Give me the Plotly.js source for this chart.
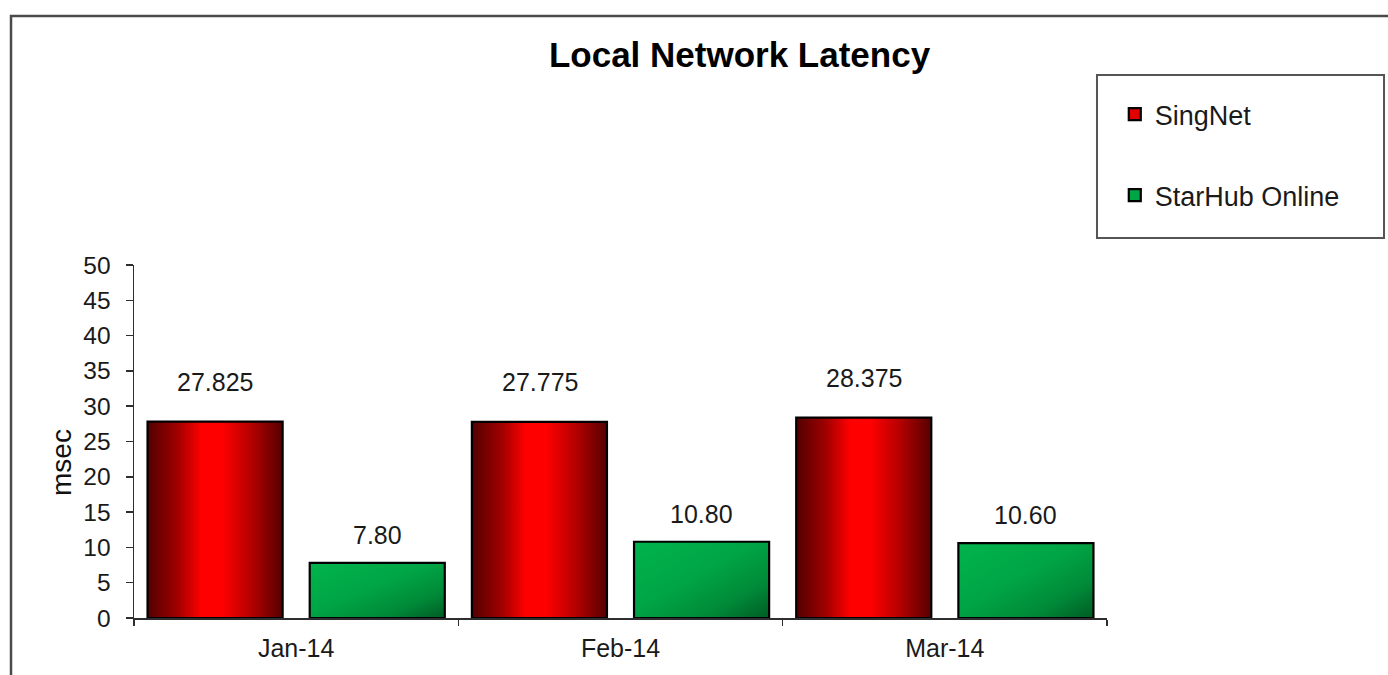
<!DOCTYPE html>
<html>
<head>
<meta charset="utf-8">
<script src="https://cdn.plot.ly/plotly-3.0.1.min.js"></script>
<style>
html,body{margin:0;padding:0;background:#fff;}
#chart{width:1388px;height:675px;}
</style>
</head>
<body>
<div id="chart"></div>
<script>
// ---- data ----
const categories = ['Jan-14', 'Feb-14', 'Mar-14'];
const seriesNames = ['SingNet', 'StarHub Online'];
const singnetValues = [27.825, 27.775, 28.375];
const starhubValues = [7.80, 10.80, 10.60];
const singnetLabels = ['27.825', '27.775', '28.375'];
const starhubLabels = ['7.80', '10.80', '10.60'];
const yTickValues = [0, 5, 10, 15, 20, 25, 30, 35, 40, 45, 50];
const chartTitle = 'Local Network Latency';
const yAxisTitle = 'msec';

// ---- style ----
const FONT = 'Liberation Sans, Arial, Helvetica, sans-serif';
const TXT = '#1a1a1a';
const AX = '#2e2e2e';

const data = [
  {
    type: 'bar', name: seriesNames[0], x: categories, y: singnetValues,
    legendgroup: 'a',
    marker: {color: '#e00000', line: {color: '#000000', width: 2.2}},
    hoverinfo: 'skip'
  },
  {
    type: 'bar', name: seriesNames[1], x: categories, y: starhubValues,
    legendgroup: 'b',
    marker: {color: '#00a645', line: {color: '#000000', width: 2.2}},
    hoverinfo: 'skip'
  }
];

const annotations = [];
categories.forEach((c, i) => {
  annotations.push({x: c, y: singnetValues[i], xref: 'x', yref: 'y', text: singnetLabels[i],
    showarrow: false, xshift: -81, yshift: 40, yanchor: 'middle',
    font: {family: FONT, size: 25, color: TXT}});
  annotations.push({x: c, y: starhubValues[i], xref: 'x', yref: 'y', text: starhubLabels[i],
    showarrow: false, xshift: 81, yshift: 28, yanchor: 'middle',
    font: {family: FONT, size: 25, color: TXT}});
});
annotations.push({
  x: -0.074, y: 0.442, xref: 'paper', yref: 'paper', text: yAxisTitle,
  textangle: -90, showarrow: false, xanchor: 'center', yanchor: 'middle',
  font: {family: FONT, size: 28, color: '#111111'}
});

const layout = {
  width: 1388, height: 675,
  paper_bgcolor: '#ffffff', plot_bgcolor: '#ffffff',
  margin: {l: 134, r: 281, t: 265, b: 57, pad: 0},
  font: {family: FONT, color: TXT},
  title: {
    text: chartTitle, x: 0.5328, xanchor: 'center', y: 0.9185, yanchor: 'middle',
    xref: 'container', yref: 'container',
    font: {family: FONT, size: 35, color: '#000000', weight: 'bold'}
  },
  barmode: 'group', bargap: 0, bargroupgap: 0.167,
  showlegend: true,
  legend: {
    x: 1.008, y: 1.4957, xanchor: 'left', yanchor: 'top', xref: 'paper', yref: 'paper',
    traceorder: 'grouped', tracegroupgap: 43,
    bgcolor: 'rgba(0,0,0,0)', borderwidth: 0,
    font: {family: FONT, size: 27, color: TXT}
  },
  xaxis: {
    type: 'category', showgrid: false, zeroline: false,
    showline: true, linecolor: AX, linewidth: 1.5,
    ticks: 'outside', tickson: 'boundaries', ticklen: 6, tickwidth: 1.5, tickcolor: AX,
    tickfont: {family: FONT, size: 25, color: TXT}, ticklabelstandoff: 7,
    fixedrange: true
  },
  yaxis: {
    range: [0, 50], tickvals: yTickValues, showgrid: false, zeroline: false,
    showline: true, linecolor: AX, linewidth: 1.5,
    ticks: 'outside', ticklen: 7, tickwidth: 1.5, tickcolor: AX,
    tickfont: {family: FONT, size: 24.5, color: TXT}, ticklabelstandoff: 10,
    fixedrange: true
  },
  annotations: annotations,
  shapes: [
    // legend frame
    {type: 'rect', xref: 'paper', yref: 'paper', x0: 0.9897, x1: 1.2847, y0: 1.0765, y1: 1.5382,
     line: {color: '#555555', width: 2}, fillcolor: 'rgba(0,0,0,0)', layer: 'below'},
    // outer chart frame (top & left visible)
    {type: 'rect', xref: 'paper', yref: 'paper', x0: -0.1264, x1: 2, y0: -1, y1: 1.7054,
     line: {color: '#4a4a4a', width: 2.5}, fillcolor: 'rgba(0,0,0,0)', layer: 'below'}
  ]
};

Plotly.newPlot('chart', data, layout, {staticPlot: true, displayModeBar: false}).then(gd => {
  const ns = 'http://www.w3.org/2000/svg';
  const svg = gd.querySelector('.main-svg');
  let defs = svg.querySelector('defs');
  if (!defs) { defs = document.createElementNS(ns, 'defs'); svg.insertBefore(defs, svg.firstChild); }
  function addGrad(id, x2, y2, stops) {
    const g = document.createElementNS(ns, 'linearGradient');
    g.setAttribute('id', id);
    g.setAttribute('x1', '0'); g.setAttribute('y1', '0');
    g.setAttribute('x2', x2); g.setAttribute('y2', y2);
    stops.forEach(s => {
      const st = document.createElementNS(ns, 'stop');
      st.setAttribute('offset', s[0]);
      st.setAttribute('stop-color', s[1]);
      g.appendChild(st);
    });
    defs.appendChild(g);
  }
  addGrad('gradRed', '1', '0', [[0, '#520000'], [0.22, '#a00000'], [0.4, '#ff0000'], [0.55, '#ff0000'], [0.78, '#b00000'], [1, '#560000']]);
  addGrad('gradGreen', '1', '1', [[0, '#00b44c'], [0.45, '#00a545'], [0.75, '#008a38'], [1, '#005c24']]);
  const traces = gd.querySelectorAll('.barlayer .trace');
  if (traces[0]) traces[0].querySelectorAll('path').forEach(p => { p.style.fill = 'url(#gradRed)'; });
  if (traces[1]) traces[1].querySelectorAll('path').forEach(p => { p.style.fill = 'url(#gradGreen)'; });
});
</script>
</body>
</html>
